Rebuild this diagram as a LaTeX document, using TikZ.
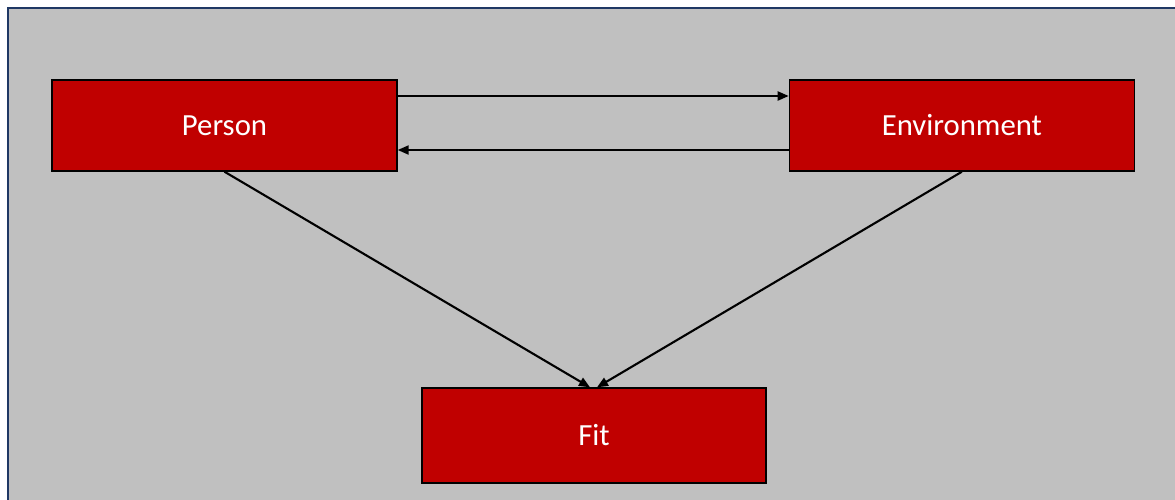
\documentclass[tikz,border=0pt]{standalone}
\usepackage{fontspec}
\setmainfont{Carlito}
\usepackage{tikz}
\usetikzlibrary{positioning, arrows.meta}
\usepackage{xcolor}

\definecolor{boxred}{HTML}{C00000}
\definecolor{panelgray}{HTML}{C0C0C0}
\definecolor{framenavy}{HTML}{1F3864}

\tikzset{
	block/.style={draw=black, line width=0.8pt, fill=boxred, text=white,
		minimum width=6.9cm, minimum height=1.82cm, inner sep=0pt,
		font=\fontsize{17.5}{21}\selectfont},
	flow/.style={draw=black, line width=1.2pt,
		-{Triangle[length=0.22cm, width=0.18cm]}}
}

\begin{document}
\begin{tikzpicture}
				\useasboundingbox (0,0) rectangle (23.5,-9.98);
				% grey panel, cut off at the right and bottom
				\draw[framenavy, line width=1.1pt, fill=panelgray] (0.16,-0.16) rectangle (23.8,-10.3);
				
				\node[block] (person) at (4.49,-2.51) {Person};
				\node[block, right=7.82cm of person] (env) {Environment};
				\node[block, minimum width=6.88cm, minimum height=1.9cm] (fit) at (11.88,-8.71) {Fit};
				
				\draw[flow] ([yshift=0.59cm]person.east) -- ([yshift=0.59cm]env.west);
				\draw[flow] ([yshift=-0.49cm]env.west) -- ([yshift=-0.49cm]person.east);
				
				\draw[flow] (person.south) -- ([xshift=-0.08cm]fit.north);
				\draw[flow] (env.south) -- ([xshift=0.06cm]fit.north);
			\end{tikzpicture}
\end{document}
